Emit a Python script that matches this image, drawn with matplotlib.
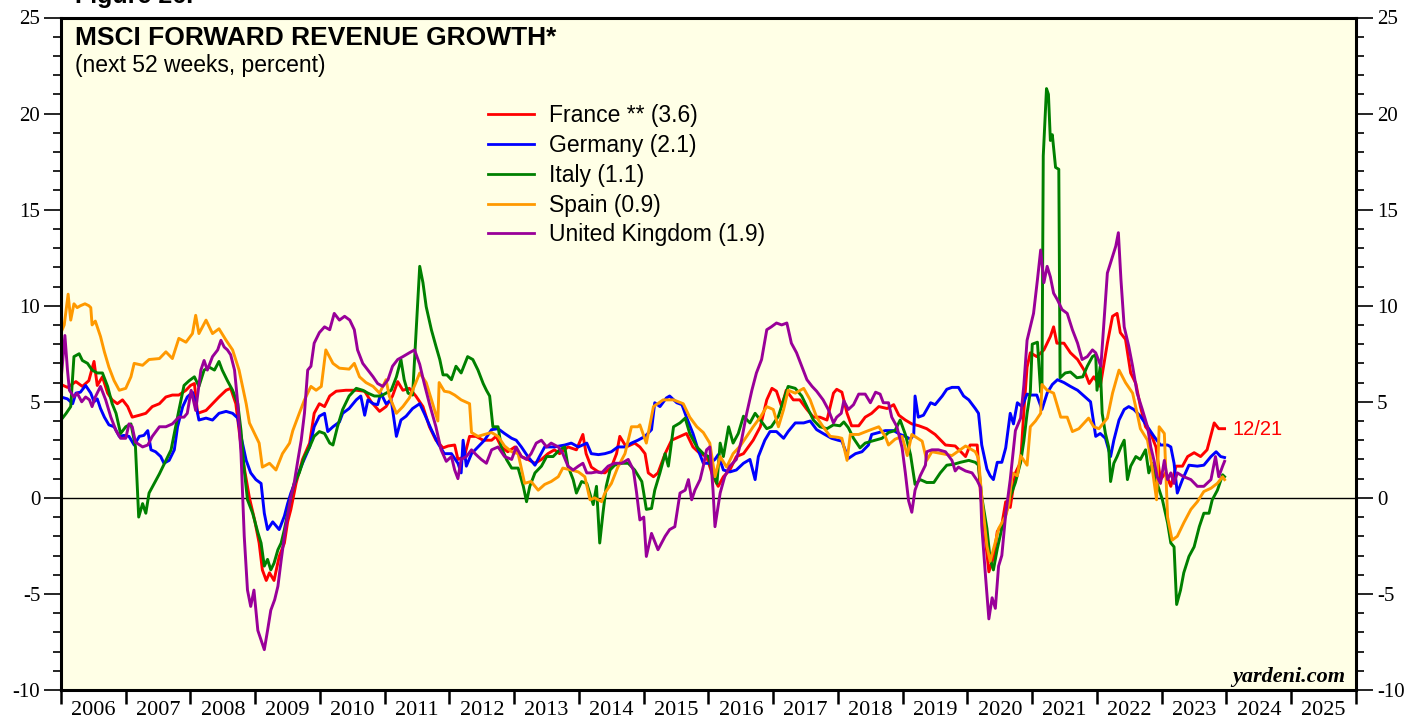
import matplotlib
matplotlib.use("Agg")
from matplotlib import pyplot as plt
from matplotlib.ticker import MultipleLocator, FixedLocator, NullFormatter

plt.rcParams['axes.unicode_minus'] = False

######################
# data (weekly series thinned out)
######################
france_t = [2006.00, 2006.10, 2006.23, 2006.33, 2006.43, 2006.51, 2006.56, 2006.64, 2006.72, 2006.79,
            2006.87, 2006.95, 2007.03, 2007.10, 2007.21, 2007.31, 2007.41, 2007.52, 2007.62, 2007.72,
            2007.82, 2007.93, 2008.00, 2008.06, 2008.11, 2008.24, 2008.34, 2008.44, 2008.55, 2008.62,
            2008.70, 2008.80, 2008.91, 2008.99, 2009.06, 2009.11, 2009.17, 2009.22, 2009.29, 2009.37,
            2009.45, 2009.50, 2009.55, 2009.63, 2009.73, 2009.84, 2009.91, 2009.99, 2010.07, 2010.15,
            2010.25, 2010.40, 2010.56, 2010.69, 2010.79, 2010.92, 2011.02, 2011.12, 2011.20, 2011.28,
            2011.38, 2011.48, 2011.59, 2011.69, 2011.79, 2011.90, 2011.98, 2012.08, 2012.13, 2012.23,
            2012.31, 2012.41, 2012.52, 2012.65, 2012.72, 2012.80, 2012.90, 2013.01, 2013.11, 2013.21,
            2013.32, 2013.42, 2013.52, 2013.62, 2013.70, 2013.83, 2013.96, 2014.06, 2014.11, 2014.19,
            2014.30, 2014.40, 2014.50, 2014.58, 2014.63, 2014.73, 2014.86, 2014.94, 2015.02, 2015.07,
            2015.15, 2015.22, 2015.33, 2015.43, 2015.56, 2015.66, 2015.76, 2015.87, 2015.97, 2016.07,
            2016.15, 2016.23, 2016.33, 2016.43, 2016.54, 2016.69, 2016.80, 2016.90, 2016.98, 2017.05,
            2017.13, 2017.20, 2017.31, 2017.41, 2017.52, 2017.62, 2017.72, 2017.83, 2017.93, 2017.98,
            2018.06, 2018.14, 2018.21, 2018.32, 2018.42, 2018.52, 2018.63, 2018.76, 2018.86, 2018.94,
            2019.04, 2019.14, 2019.25, 2019.37, 2019.50, 2019.66, 2019.81, 2019.97, 2020.04, 2020.15,
            2020.20, 2020.28, 2020.33, 2020.41, 2020.46, 2020.53, 2020.59, 2020.66, 2020.74, 2020.82,
            2020.87, 2020.92, 2020.97, 2021.07, 2021.18, 2021.28, 2021.33, 2021.38, 2021.49, 2021.59,
            2021.70, 2021.80, 2021.88, 2021.95, 2022.05, 2022.16, 2022.24, 2022.31, 2022.36, 2022.44,
            2022.52, 2022.60, 2022.67, 2022.75, 2022.83, 2022.91, 2022.98, 2023.06, 2023.14, 2023.22,
            2023.32, 2023.40, 2023.50, 2023.60, 2023.70, 2023.81, 2023.88, 2023.97]
france_v = [5.9, 5.75, 6.05, 5.8, 6.1, 7.1, 5.85, 6.3, 5.45, 5.1,
            4.9, 5.1, 4.75, 4.2, 4.3, 4.4, 4.75, 4.9, 5.25, 5.35,
            5.35, 5.6, 5.85, 5.95, 4.4, 4.55, 4.9, 5.25, 5.6, 5.7,
            4.9, 2.15, 0.0, -1.15, -2.35, -3.75, -4.3, -3.9, -4.3, -3.05,
            -2.35, -1.25, -0.6, 0.75, 2.0, 2.85, 4.4, 4.9, 4.75, 5.3,
            5.55, 5.6, 5.6, 5.55, 5.0, 4.5, 4.75, 5.3, 6.05, 5.6,
            5.7, 5.3, 4.75, 3.7, 3.0, 2.6, 2.7, 2.75, 2.0, 2.15,
            3.2, 3.2, 3.0, 3.0, 3.2, 2.65, 2.4, 2.65, 2.15, 2.0,
            1.8, 2.0, 2.3, 2.5, 2.3, 2.65, 2.5, 3.3, 2.3, 1.6,
            1.35, 1.3, 1.6, 2.3, 3.2, 2.65, 2.85, 2.65, 2.3, 1.3,
            1.1, 1.3, 2.3, 3.0, 3.2, 3.35, 2.65, 2.3, 2.15, 1.1,
            0.6, 1.1, 1.45, 2.15, 2.3, 3.0, 3.7, 5.1, 5.7, 5.55,
            4.75, 5.6, 5.1, 5.1, 4.6, 4.2, 4.2, 4.05, 5.45, 5.65,
            5.5, 4.4, 3.75, 3.75, 4.2, 4.4, 4.75, 4.65, 4.85, 4.3,
            4.05, 3.85, 3.75, 3.6, 3.3, 2.75, 2.7, 2.15, 2.75, 2.75,
            0.25, -2.3, -3.85, -3.0, -1.75, -1.4, -0.2, -0.5, 1.3, 1.85,
            4.5, 6.8, 7.55, 7.35, 7.7, 8.4, 8.9, 8.05, 8.05, 7.55,
            7.2, 6.65, 5.95, 6.3, 5.8, 8.05, 9.45, 9.6, 8.6, 8.25,
            6.5, 5.95, 4.75, 3.7, 3.35, 2.65, 0.95, 1.3, 0.6, 1.65,
            1.65, 2.15, 2.35, 2.15, 2.5, 3.9, 3.6, 3.6]

germany_t = [2006.00, 2006.10, 2006.18, 2006.23, 2006.30, 2006.38, 2006.46, 2006.51, 2006.56, 2006.61,
             2006.67, 2006.74, 2006.82, 2006.90, 2006.97, 2007.05, 2007.13, 2007.21, 2007.28, 2007.34,
             2007.39, 2007.46, 2007.54, 2007.59, 2007.67, 2007.75, 2007.80, 2007.88, 2007.95, 2008.03,
             2008.08, 2008.13, 2008.24, 2008.34, 2008.44, 2008.55, 2008.65, 2008.73, 2008.78, 2008.86,
             2008.93, 2009.01, 2009.09, 2009.14, 2009.19, 2009.27, 2009.37, 2009.45, 2009.50, 2009.55,
             2009.63, 2009.73, 2009.84, 2009.91, 2009.99, 2010.07, 2010.12, 2010.20, 2010.30, 2010.35,
             2010.45, 2010.56, 2010.63, 2010.69, 2010.74, 2010.82, 2010.89, 2010.94, 2011.02, 2011.10,
             2011.15, 2011.18, 2011.25, 2011.33, 2011.43, 2011.54, 2011.61, 2011.72, 2011.82, 2011.92,
             2012.03, 2012.13, 2012.18, 2012.21, 2012.26, 2012.34, 2012.44, 2012.54, 2012.65, 2012.75,
             2012.85, 2012.96, 2013.03, 2013.11, 2013.21, 2013.32, 2013.39, 2013.47, 2013.62, 2013.78,
             2013.88, 2013.99, 2014.12, 2014.19, 2014.30, 2014.40, 2014.50, 2014.60, 2014.71, 2014.81,
             2014.91, 2015.02, 2015.12, 2015.17, 2015.25, 2015.35, 2015.40, 2015.51, 2015.59, 2015.66,
             2015.76, 2015.84, 2015.92, 2016.02, 2016.10, 2016.15, 2016.23, 2016.33, 2016.43, 2016.54,
             2016.64, 2016.72, 2016.77, 2016.87, 2016.95, 2017.05, 2017.16, 2017.23, 2017.34, 2017.47,
             2017.57, 2017.67, 2017.77, 2017.90, 2018.00, 2018.06, 2018.16, 2018.27, 2018.37, 2018.47,
             2018.52, 2018.63, 2018.73, 2018.86, 2018.96, 2019.04, 2019.12, 2019.17, 2019.19, 2019.24,
             2019.32, 2019.43, 2019.50, 2019.61, 2019.68, 2019.76, 2019.86, 2019.94, 2020.02, 2020.12,
             2020.17, 2020.22, 2020.30, 2020.35, 2020.40, 2020.46, 2020.53, 2020.59, 2020.66, 2020.71,
             2020.77, 2020.84, 2020.92, 2020.97, 2021.07, 2021.15, 2021.23, 2021.31, 2021.39, 2021.49,
             2021.59, 2021.70, 2021.80, 2021.90, 2021.98, 2022.05, 2022.13, 2022.21, 2022.26, 2022.34,
             2022.42, 2022.49, 2022.57, 2022.67, 2022.78, 2022.88, 2022.98, 2023.09, 2023.14, 2023.19,
             2023.24, 2023.32, 2023.42, 2023.55, 2023.65, 2023.76, 2023.84, 2023.91, 2023.97]
germany_v = [5.25, 5.15, 4.9, 5.45, 5.5, 5.85, 5.45, 5.0, 5.15, 4.65,
             4.2, 3.8, 3.7, 3.2, 3.25, 3.2, 2.75, 3.2, 3.25, 3.5,
             2.5, 2.4, 2.15, 1.8, 1.95, 2.5, 3.7, 4.75, 5.25, 5.5,
             4.9, 4.05, 4.15, 4.05, 4.4, 4.5, 4.4, 4.15, 3.2, 1.95,
             1.3, 0.95, 0.75, -0.8, -1.65, -1.25, -1.65, -0.95, -0.3, 0.25,
             0.95, 1.8, 2.65, 3.7, 4.25, 4.4, 3.45, 3.7, 3.95, 4.4,
             4.65, 5.1, 5.3, 4.3, 5.1, 4.9, 4.85, 5.45, 4.9, 5.1,
             3.9, 3.2, 4.05, 4.25, 4.65, 4.9, 4.4, 3.55, 2.85, 2.3,
             2.3, 1.8, 1.3, 3.0, 1.65, 2.3, 2.65, 3.0, 3.55, 3.6,
             3.35, 3.1, 3.0, 2.65, 2.15, 1.7, 2.15, 2.65, 2.65, 2.75,
             2.85, 2.65, 2.85, 2.3, 2.25, 2.3, 2.4, 2.65, 2.65, 2.85,
             3.0, 3.2, 3.55, 4.95, 4.75, 5.2, 5.3, 4.95, 4.85, 4.2,
             3.35, 2.5, 1.8, 1.8, 2.0, 2.25, 1.45, 1.35, 1.45, 1.8,
             2.0, 0.95, 2.15, 3.0, 3.45, 3.45, 3.1, 3.45, 3.9, 3.9,
             4.0, 3.55, 3.35, 3.1, 3.0, 2.95, 2.05, 2.3, 2.4, 2.75,
             3.3, 3.4, 3.5, 3.5, 3.3, 3.2, 3.05, 3.3, 5.3, 4.2,
             4.3, 4.95, 4.85, 5.3, 5.65, 5.75, 5.75, 5.3, 5.1, 4.65,
             4.4, 2.75, 1.5, 1.15, 0.95, 1.85, 1.85, 2.6, 4.4, 3.85,
             4.95, 4.75, 5.4, 5.35, 5.35, 4.6, 5.45, 5.9, 6.15, 6.0,
             5.8, 5.6, 5.3, 5.0, 3.2, 3.35, 3.1, 2.15, 3.0, 4.05,
             4.6, 4.75, 4.6, 4.25, 3.7, 3.2, 2.75, 2.75, 2.65, 1.8,
             0.25, 0.95, 1.7, 1.65, 1.7, 2.15, 2.4, 2.15, 2.1]

italy_t = [2006.00, 2006.08, 2006.15, 2006.20, 2006.28, 2006.33, 2006.41, 2006.48, 2006.56, 2006.64,
           2006.72, 2006.79, 2006.85, 2006.92, 2007.00, 2007.08, 2007.15, 2007.20, 2007.26, 2007.31,
           2007.36, 2007.44, 2007.52, 2007.62, 2007.70, 2007.77, 2007.82, 2007.90, 2007.98, 2008.06,
           2008.13, 2008.21, 2008.29, 2008.37, 2008.44, 2008.49, 2008.57, 2008.65, 2008.73, 2008.78,
           2008.83, 2008.88, 2008.96, 2009.04, 2009.09, 2009.14, 2009.19, 2009.24, 2009.29, 2009.35,
           2009.40, 2009.45, 2009.53, 2009.60, 2009.68, 2009.76, 2009.84, 2009.91, 2009.99, 2010.07,
           2010.15, 2010.20, 2010.27, 2010.35, 2010.45, 2010.56, 2010.66, 2010.74, 2010.84, 2010.94,
           2011.02, 2011.10, 2011.18, 2011.25, 2011.30, 2011.36, 2011.43, 2011.48, 2011.54, 2011.59,
           2011.64, 2011.72, 2011.79, 2011.85, 2011.90, 2011.96, 2012.03, 2012.10, 2012.18, 2012.28,
           2012.36, 2012.44, 2012.52, 2012.57, 2012.62, 2012.67, 2012.75, 2012.80, 2012.88, 2012.96,
           2013.06, 2013.14, 2013.19, 2013.24, 2013.32, 2013.42, 2013.50, 2013.60, 2013.70, 2013.78,
           2013.83, 2013.91, 2013.96, 2014.04, 2014.12, 2014.22, 2014.27, 2014.32, 2014.37, 2014.42,
           2014.48, 2014.55, 2014.66, 2014.76, 2014.86, 2014.97, 2015.00, 2015.04, 2015.12, 2015.17,
           2015.25, 2015.33, 2015.38, 2015.46, 2015.56, 2015.64, 2015.71, 2015.82, 2015.92, 2016.00,
           2016.05, 2016.13, 2016.18, 2016.23, 2016.31, 2016.38, 2016.46, 2016.54, 2016.64, 2016.72,
           2016.80, 2016.90, 2016.97, 2017.08, 2017.16, 2017.23, 2017.34, 2017.44, 2017.54, 2017.62,
           2017.72, 2017.83, 2017.93, 2018.03, 2018.09, 2018.16, 2018.24, 2018.34, 2018.42, 2018.52,
           2018.68, 2018.78, 2018.88, 2018.96, 2019.04, 2019.12, 2019.19, 2019.27, 2019.37, 2019.48,
           2019.58, 2019.68, 2019.79, 2019.89, 2020.02, 2020.12, 2020.17, 2020.22, 2020.30, 2020.35,
           2020.40, 2020.46, 2020.53, 2020.59, 2020.66, 2020.74, 2020.82, 2020.87, 2020.92, 2020.97,
           2021.00, 2021.08, 2021.13, 2021.15, 2021.17, 2021.22, 2021.25, 2021.28, 2021.31, 2021.36,
           2021.41, 2021.43, 2021.51, 2021.59, 2021.69, 2021.78, 2021.85, 2021.93, 2021.98, 2022.00,
           2022.05, 2022.08, 2022.13, 2022.18, 2022.21, 2022.26, 2022.31, 2022.37, 2022.42, 2022.47,
           2022.52, 2022.60, 2022.67, 2022.75, 2022.80, 2022.85, 2022.91, 2023.01, 2023.09, 2023.14,
           2023.19, 2023.23, 2023.29, 2023.34, 2023.42, 2023.50, 2023.58, 2023.65, 2023.73, 2023.78,
           2023.86, 2023.94, 2023.97]
italy_v = [4.05, 4.4, 4.75, 7.35, 7.5, 7.15, 7.0, 6.65, 6.5, 6.5,
           5.8, 4.9, 4.4, 3.35, 3.7, 3.85, 2.65, -1.0, -0.3, -0.8,
           0.25, 0.75, 1.25, 1.95, 2.5, 3.7, 4.55, 5.85, 6.1, 6.3,
           5.8, 6.65, 6.8, 6.65, 7.1, 6.65, 6.1, 5.6, 4.9, 3.5,
           1.45, -0.1, -0.8, -1.8, -2.35, -3.55, -3.2, -3.75, -3.4, -2.7,
           -2.35, -1.65, -0.3, 0.75, 1.3, 2.15, 2.65, 3.2, 3.45, 3.35,
           2.85, 2.75, 3.7, 4.6, 5.3, 5.7, 5.6, 5.45, 5.3, 5.3,
           5.45, 5.6, 6.3, 7.2, 6.15, 5.45, 5.35, 8.4, 12.05, 11.2,
           9.95, 8.75, 7.9, 7.2, 6.4, 6.4, 6.15, 6.85, 6.5, 7.35,
           7.2, 6.65, 5.95, 5.6, 5.3, 3.7, 3.7, 2.65, 2.0, 1.55,
           1.55, 0.6, -0.2, 0.6, 1.3, 1.65, 2.15, 2.15, 2.5, 2.65,
           1.65, 0.95, 0.25, 0.85, 0.75, -0.35, 0.6, -2.35, -0.8, 0.6,
           1.45, 1.7, 1.8, 1.8, 1.45, 0.85, 0.25, -0.6, -0.55, 0.4,
           1.3, 2.3, 1.65, 3.7, 3.9, 4.15, 3.35, 2.65, 2.3, 2.15,
           1.45, 0.75, 2.85, 2.15, 3.7, 2.85, 3.35, 4.25, 3.9, 4.4,
           4.05, 3.6, 3.7, 4.25, 5.1, 5.8, 5.7, 5.3, 4.6, 4.05,
           3.7, 3.6, 3.8, 3.75, 3.95, 3.65, 3.1, 2.6, 2.85, 2.95,
           3.1, 3.4, 3.5, 4.05, 3.3, 2.25, 0.7, 0.95, 0.8, 0.8,
           1.3, 1.7, 1.75, 1.85, 1.95, 1.85, 1.7, 0.05, -1.6, -3.2,
           -3.75, -2.65, -1.6, -0.85, 0.05, 0.8, 1.85, 2.95, 4.4, 5.5,
           8.0, 8.1, 5.5, 5.8, 17.8, 21.3, 21.0, 18.6, 18.9, 17.2,
           17.1, 6.25, 6.5, 6.55, 6.25, 6.3, 6.85, 7.35, 7.45, 5.6,
           6.85, 4.4, 3.35, 2.65, 0.85, 1.8, 2.15, 2.65, 3.0, 0.95,
           1.65, 2.15, 2.0, 2.5, 1.3, 1.8, 0.95, -0.1, -1.3, -2.35,
           -2.55, -5.55, -4.8, -3.9, -3.05, -2.55, -1.5, -0.8, -0.8, -0.1,
           0.4, 1.2, 1.1]

spain_t = [2006.00, 2006.05, 2006.11, 2006.15, 2006.20, 2006.25, 2006.30, 2006.37, 2006.43, 2006.46,
           2006.48, 2006.53, 2006.61, 2006.67, 2006.74, 2006.82, 2006.90, 2007.00, 2007.08, 2007.13,
           2007.26, 2007.36, 2007.52, 2007.62, 2007.72, 2007.82, 2007.93, 2008.03, 2008.08, 2008.13,
           2008.24, 2008.34, 2008.44, 2008.55, 2008.65, 2008.75, 2008.86, 2008.91, 2009.01, 2009.06,
           2009.11, 2009.22, 2009.32, 2009.42, 2009.53, 2009.58, 2009.68, 2009.76, 2009.86, 2009.94,
           2010.02, 2010.09, 2010.20, 2010.30, 2010.45, 2010.53, 2010.61, 2010.71, 2010.82, 2010.92,
           2011.02, 2011.07, 2011.18, 2011.28, 2011.38, 2011.48, 2011.54, 2011.64, 2011.74, 2011.82,
           2011.84, 2011.92, 2012.00, 2012.08, 2012.18, 2012.31, 2012.34, 2012.44, 2012.54, 2012.65,
           2012.75, 2012.85, 2012.96, 2013.06, 2013.16, 2013.26, 2013.37, 2013.47, 2013.57, 2013.68,
           2013.75, 2013.88, 2013.99, 2014.09, 2014.17, 2014.24, 2014.35, 2014.40, 2014.50, 2014.60,
           2014.71, 2014.81, 2014.91, 2014.94, 2015.04, 2015.15, 2015.30, 2015.46, 2015.61, 2015.71,
           2015.82, 2015.92, 2016.02, 2016.10, 2016.18, 2016.28, 2016.38, 2016.49, 2016.59, 2016.69,
           2016.80, 2016.90, 2017.00, 2017.08, 2017.16, 2017.23, 2017.34, 2017.47, 2017.57, 2017.67,
           2017.77, 2017.88, 2018.00, 2018.06, 2018.14, 2018.19, 2018.32, 2018.47, 2018.63, 2018.73,
           2018.78, 2018.88, 2018.99, 2019.07, 2019.14, 2019.30, 2019.37, 2019.45, 2019.61, 2019.76,
           2019.97, 2020.12, 2020.17, 2020.22, 2020.30, 2020.35, 2020.43, 2020.48, 2020.59, 2020.64,
           2020.69, 2020.77, 2020.82, 2020.92, 2020.97, 2021.05, 2021.13, 2021.15, 2021.23, 2021.33,
           2021.44, 2021.54, 2021.62, 2021.72, 2021.87, 2021.95, 2022.03, 2022.16, 2022.24, 2022.34,
           2022.44, 2022.55, 2022.62, 2022.67, 2022.78, 2022.85, 2022.92, 2022.96, 2023.04, 2023.09,
           2023.16, 2023.24, 2023.34, 2023.45, 2023.55, 2023.65, 2023.76, 2023.86, 2023.94, 2023.97]
spain_v = [8.6, 9.0, 10.6, 9.25, 10.1, 9.9, 10.0, 10.1, 10.0, 9.9,
           9.0, 9.2, 8.4, 7.6, 6.8, 6.1, 5.6, 5.7, 6.3, 7.0,
           6.9, 7.2, 7.25, 7.6, 7.25, 8.3, 8.1, 8.55, 9.5, 8.55,
           9.25, 8.55, 8.8, 8.2, 7.7, 6.65, 4.9, 3.9, 3.2, 2.85,
           1.6, 1.8, 1.45, 2.3, 2.85, 3.5, 4.4, 5.1, 5.8, 5.6,
           5.8, 7.7, 7.0, 6.75, 6.7, 7.0, 6.3, 6.0, 5.8, 5.45,
           6.15, 5.3, 4.4, 4.75, 5.2, 6.0, 6.5, 6.0, 4.9, 4.0,
           6.0, 5.55, 5.5, 5.35, 5.1, 4.9, 3.4, 3.2, 3.3, 3.4,
           3.2, 2.7, 2.4, 2.3, 0.76, 0.85, 0.4, 0.7, 0.85, 1.1,
           1.55, 1.45, 1.35, 1.1, -0.1, 0.0, -0.2, 0.25, 0.75, 1.6,
           2.3, 3.7, 3.7, 3.8, 2.85, 4.75, 5.1, 5.1, 4.9, 4.2,
           3.7, 3.4, 2.85, 1.1, 2.15, 1.6, 2.3, 2.7, 3.2, 3.7,
           4.2, 4.75, 4.6, 3.7, 4.6, 5.6, 5.45, 5.7, 5.1, 4.2,
           3.7, 3.2, 3.15, 3.1, 1.95, 3.3, 3.3, 3.5, 3.7, 3.2,
           2.75, 3.05, 3.2, 2.2, 3.3, 2.95, 1.95, 2.4, 2.3, 2.2,
           2.7, 2.4, 2.05, 0.05, -2.5, -3.3, -2.3, -1.6, -0.95, -0.3,
           1.3, 1.15, 2.2, 1.7, 3.7, 4.0, 4.4, 5.9, 5.6, 5.45,
           4.2, 4.2, 3.45, 3.6, 4.15, 3.7, 3.6, 4.15, 5.45, 6.65,
           6.0, 5.45, 4.4, 3.6, 3.0, 1.6, -0.1, 3.7, 3.35, -1.0,
           -2.2, -2.0, -1.3, -0.6, -0.2, 0.33, 0.5, 0.76, 1.1, 0.95]

uk_t = [2006.00, 2006.06, 2006.10, 2006.13, 2006.20, 2006.25, 2006.32, 2006.38, 2006.44, 2006.48,
        2006.53, 2006.61, 2006.69, 2006.77, 2006.85, 2006.92, 2007.00, 2007.05, 2007.10, 2007.15,
        2007.26, 2007.34, 2007.41, 2007.52, 2007.62, 2007.72, 2007.82, 2007.90, 2007.95, 2008.01,
        2008.08, 2008.16, 2008.21, 2008.26, 2008.34, 2008.42, 2008.47, 2008.52, 2008.57, 2008.62,
        2008.68, 2008.73, 2008.78, 2008.83, 2008.88, 2008.93, 2008.98, 2009.04, 2009.09, 2009.14,
        2009.19, 2009.24, 2009.30, 2009.35, 2009.40, 2009.47, 2009.55, 2009.60, 2009.66, 2009.71,
        2009.76, 2009.81, 2009.86, 2009.91, 2009.99, 2010.07, 2010.15, 2010.22, 2010.30, 2010.38,
        2010.46, 2010.53, 2010.58, 2010.66, 2010.74, 2010.82, 2010.89, 2010.97, 2011.05, 2011.12,
        2011.20, 2011.28, 2011.38, 2011.46, 2011.54, 2011.61, 2011.69, 2011.79, 2011.87, 2011.95,
        2012.03, 2012.08, 2012.13, 2012.18, 2012.26, 2012.34, 2012.41, 2012.49, 2012.57, 2012.65,
        2012.75, 2012.85, 2012.96, 2013.03, 2013.11, 2013.19, 2013.26, 2013.34, 2013.42, 2013.50,
        2013.57, 2013.68, 2013.75, 2013.83, 2013.91, 2013.99, 2014.06, 2014.12, 2014.19, 2014.27,
        2014.35, 2014.45, 2014.55, 2014.66, 2014.76, 2014.84, 2014.89, 2014.94, 2015.00, 2015.04,
        2015.12, 2015.22, 2015.33, 2015.40, 2015.48, 2015.56, 2015.64, 2015.69, 2015.74, 2015.79,
        2015.87, 2015.92, 2015.97, 2016.02, 2016.07, 2016.10, 2016.18, 2016.25, 2016.33, 2016.43,
        2016.51, 2016.59, 2016.67, 2016.74, 2016.82, 2016.90, 2016.97, 2017.05, 2017.13, 2017.21,
        2017.28, 2017.36, 2017.44, 2017.52, 2017.60, 2017.67, 2017.77, 2017.85, 2017.93, 2017.98,
        2018.05, 2018.09, 2018.16, 2018.24, 2018.32, 2018.42, 2018.50, 2018.58, 2018.65, 2018.70,
        2018.78, 2018.83, 2018.91, 2018.99, 2019.04, 2019.09, 2019.14, 2019.19, 2019.27, 2019.35,
        2019.37, 2019.45, 2019.55, 2019.66, 2019.76, 2019.81, 2019.86, 2019.97, 2020.07, 2020.15,
        2020.20, 2020.22, 2020.28, 2020.33, 2020.38, 2020.43, 2020.48, 2020.53, 2020.59, 2020.66,
        2020.74, 2020.82, 2020.87, 2020.92, 2020.97, 2021.02, 2021.08, 2021.13, 2021.18, 2021.23,
        2021.28, 2021.33, 2021.39, 2021.46, 2021.54, 2021.62, 2021.70, 2021.77, 2021.85, 2021.93,
        2021.98, 2022.06, 2022.11, 2022.16, 2022.24, 2022.29, 2022.33, 2022.37, 2022.42, 2022.49,
        2022.55, 2022.62, 2022.70, 2022.78, 2022.83, 2022.88, 2022.93, 2022.98, 2023.04, 2023.09,
        2023.14, 2023.19, 2023.24, 2023.34, 2023.45, 2023.55, 2023.65, 2023.76, 2023.83, 2023.88,
        2023.94, 2023.97]
uk_v = [6.1, 8.45, 6.65, 5.6, 5.25, 5.45, 5.0, 5.25, 5.1, 4.75,
        5.25, 5.8, 5.1, 4.2, 3.5, 3.1, 3.1, 3.85, 3.7, 2.9,
        2.65, 2.75, 3.2, 3.7, 3.7, 3.85, 4.2, 4.2, 4.4, 5.6,
        4.55, 6.65, 7.15, 6.65, 7.35, 7.7, 8.2, 7.85, 7.7, 7.45,
        6.65, 4.9, 2.3, -2.0, -4.8, -5.65, -4.8, -6.9, -7.4, -7.9,
        -6.9, -5.85, -5.3, -4.6, -3.25, -1.5, 0.05, 0.75, 2.0, 3.0,
        4.4, 6.65, 6.85, 8.05, 8.6, 8.9, 8.75, 9.6, 9.25, 9.45,
        9.25, 8.75, 7.7, 7.0, 6.65, 6.3, 5.95, 5.8, 6.15, 6.85,
        7.2, 7.35, 7.55, 7.7, 6.95, 5.95, 4.9, 3.7, 2.5, 1.9,
        2.15, 1.45, 1.0, 2.0, 2.15, 2.5, 2.25, 2.0, 1.8, 2.5,
        2.65, 2.15, 2.0, 2.65, 2.15, 2.0, 2.3, 2.85, 3.0, 2.65,
        2.85, 2.65, 2.3, 1.65, 1.45, 1.65, 1.8, 1.3, 1.3, 1.35,
        1.3, 1.65, 1.8, 1.8, 2.0, 1.45, 0.25, -1.15, -1.0, -3.05,
        -1.85, -2.7, -2.0, -1.65, -1.5, 0.25, 0.4, 0.95, -0.1, 0.4,
        0.95, 1.65, 2.5, 2.65, 0.4, -1.5, 0.25, 1.1, 1.65, 2.0,
        3.0, 4.4, 5.6, 6.5, 7.2, 8.75, 8.9, 9.1, 9.0, 9.1,
        8.05, 7.55, 6.85, 6.15, 5.8, 5.55, 5.1, 4.6, 3.9, 4.2,
        4.4, 5.05, 4.6, 4.85, 5.4, 5.4, 4.95, 5.5, 5.4, 4.95,
        4.95, 4.2, 3.7, 2.6, 1.3, -0.15, -0.75, 0.4, 1.15, 1.7,
        2.4, 2.5, 2.5, 2.4, 1.95, 1.4, 1.6, 1.4, 1.3, 0.9,
        0.55, -1.45, -4.15, -6.3, -5.2, -5.75, -3.55, -3.0, -0.85, 0.95,
        3.5, 4.15, 5.85, 8.2, 8.9, 9.6, 11.35, 12.9, 11.2, 12.05,
        11.5, 10.65, 10.3, 9.8, 9.6, 8.75, 8.05, 7.2, 7.35, 7.7,
        7.55, 6.85, 9.25, 11.7, 12.55, 13.1, 13.8, 11.35, 8.9, 7.9,
        6.85, 5.45, 4.6, 3.7, 2.65, 1.95, 1.1, 0.75, 1.95, 0.95,
        1.3, 0.75, 1.3, 1.1, 0.95, 0.6, 0.6, 0.95, 2.15, 1.1,
        1.65, 1.9]

labels = ['France ** (3.6)', 'Germany (2.1)', 'Italy (1.1)', 'Spain (0.9)', 'United Kingdom (1.9)']
colors = ['#ff0000', '#0000ff', '#008000', '#ff9900', '#990099']
years = list(range(2006, 2026))

######################
# figure
######################
fig = plt.figure(figsize=(14.08, 7.19), dpi=100)
ax = fig.add_axes([61 / 1408, 1 - 690 / 719, (1356 - 61) / 1408, (690 - 17.5) / 719])
ax.set_facecolor('#ffffe6')

series = [(france_t, france_v), (germany_t, germany_v), (italy_t, italy_v),
          (spain_t, spain_v), (uk_t, uk_v)]
for (t, v), lab, c in zip(series, labels, colors):
    ax.plot(t, v, color=c, lw=2.1, label=lab, solid_joinstyle='round')

ax.axhline(0, color='black', lw=1.0, zorder=1)

ax.set_xlim(2006, 2026)
ax.set_ylim(-10, 25)

for s in ax.spines.values():
    s.set_linewidth(2.2)

# x axis: ticks between years, labels centred in each year
ax.xaxis.set_major_locator(FixedLocator(range(2006, 2027)))
ax.xaxis.set_major_formatter(NullFormatter())
ax.xaxis.set_minor_locator(FixedLocator([y + 0.5 for y in years]))
ax.set_xticklabels([str(y) for y in years], minor=True)
ax.tick_params(axis='x', which='major', direction='out', length=10, width=1.8, bottom=True, top=False)
ax.tick_params(axis='x', which='minor', length=0, pad=8, labelsize=16)

# y axis on both sides
ax.yaxis.set_major_locator(MultipleLocator(5))
ax.yaxis.set_minor_locator(MultipleLocator(1))
ax.tick_params(axis='y', which='major', direction='out', length=12, width=1.2,
               left=True, right=True, labelleft=True, labelright=True, labelsize=15, pad=3)
ax.tick_params(axis='y', which='minor', direction='out', length=6, width=1.2, left=True, right=True)

for lab in ax.get_xticklabels(minor=True) + ax.get_yticklabels():
    lab.set_family('Liberation Serif')

# titles
ax.text(14 / 1295, 1 - (45 - 17.5) / 672.5, 'MSCI FORWARD REVENUE GROWTH*', transform=ax.transAxes,
        fontsize=19, fontweight='bold', family='Liberation Sans', va='baseline', ha='left')
ax.text(14 / 1295, 1 - (72 - 17.5) / 672.5, '(next 52 weeks, percent)', transform=ax.transAxes,
        fontsize=16.5, family='Liberation Sans', va='baseline', ha='left')
fig.text(75 / 1408, 1 - 3 / 719, 'Figure 26.', fontsize=18, fontweight='bold',
         family='Liberation Sans', va='baseline', ha='left')

leg = ax.legend(loc='upper left', bbox_to_anchor=((488 - 61) / 1295, 1 - (104 - 17.5) / 672.5),
                frameon=False, prop={'family': 'Liberation Sans', 'size': 16.5},
                handlelength=2.0, handletextpad=0.65, labelspacing=0.3, borderpad=0, borderaxespad=0)
for h in leg.get_lines():
    h.set_linewidth(2.0)

ax.text(2024.1, 3.55, '12/21', color='#ff0000', fontsize=14.5, family='Liberation Sans',
        va='center', ha='left')
ax.text(1 - 11 / 1295, 8 / 672.5, 'yardeni.com', transform=ax.transAxes, fontsize=16,
        fontweight='bold', fontstyle='italic', family='Liberation Serif', ha='right', va='baseline')

fig.savefig('out.png', dpi=100)
